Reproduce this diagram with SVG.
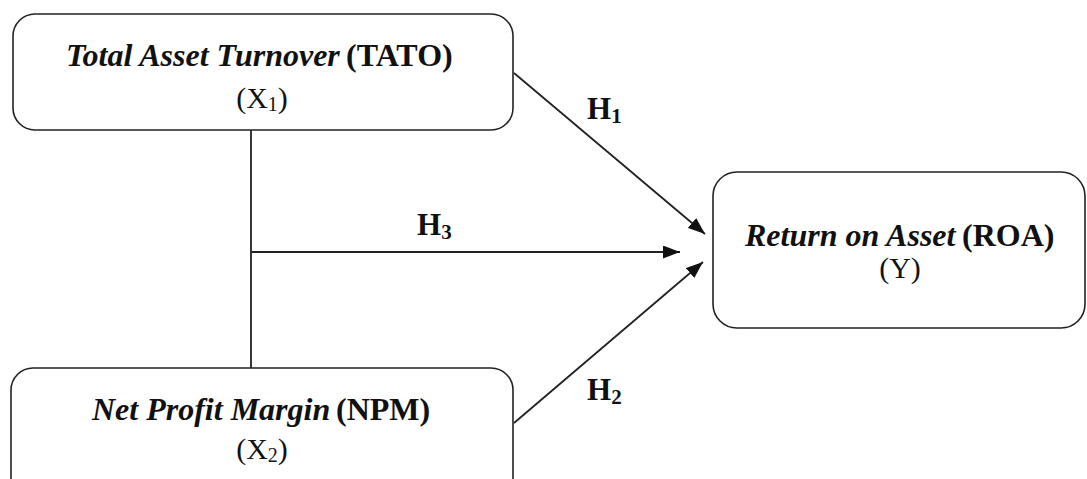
<svg xmlns="http://www.w3.org/2000/svg" width="1087" height="479" viewBox="0 0 1087 479">
<style>
.box{fill:#fff;stroke:#222;stroke-width:1.6}
.t{font-family:"Liberation Serif","Times New Roman","DejaVu Serif",serif;fill:#111}
.m{text-anchor:middle}
.l1{font-size:32px}
.l2{font-size:30px}
.bi{font-style:italic;font-weight:bold}
.b{font-weight:bold}
.sub{font-size:20px}
.h{font-family:"Liberation Serif","Times New Roman","DejaVu Serif",serif;fill:#111;font-weight:bold;font-size:31px}
.hs{font-size:21px}
.c{stroke:#222;stroke-width:1.8;fill:none}
</style>
<defs>
<marker id="ah" viewBox="0 0 17 13" refX="17" refY="6.5" markerWidth="17" markerHeight="13" markerUnits="userSpaceOnUse" orient="auto">
<path d="M0,0 L17,6.5 L0,13 Z" fill="#111"/>
</marker>
</defs>
<rect width="1087" height="479" fill="#fff"/>
<g id="connectors">
<line class="c" x1="251" y1="130" x2="251" y2="368"/>
<line class="c" x1="251" y1="252" x2="680" y2="252" marker-end="url(#ah)"/>
<line class="c" x1="514" y1="73" x2="705" y2="234" marker-end="url(#ah)"/>
<line class="c" x1="514" y1="423" x2="703" y2="262" marker-end="url(#ah)"/>
<text class="h" x="587" y="119">H<tspan class="hs" dy="4">1</tspan></text>
<text class="h" x="417" y="235">H<tspan class="hs" dy="4">3</tspan></text>
<text class="h" x="587" y="400">H<tspan class="hs" dy="4">2</tspan></text>
</g>
<g id="node-tato">
<rect class="box" x="13" y="14" width="500" height="116" rx="22"/>
<text class="t l1 bi" x="66" y="66">Total Asset Turnover</text>
<text class="t l1 b" x="346" y="66">(TATO)</text>
<text class="t l2 m" x="262" y="108">(X<tspan class="sub" dy="3">1</tspan><tspan dy="-3">)</tspan></text>
</g>
<g id="node-roa">
<rect class="box" x="713" y="172" width="372" height="156" rx="24"/>
<text class="t l1 bi" x="745" y="246">Return on Asset</text>
<text class="t l1 b" x="962" y="246">(ROA)</text>
<text class="t l2 m" x="900" y="278">(Y)</text>
</g>
<g id="node-npm">
<rect class="box" x="11" y="368" width="502" height="140" rx="22"/>
<text class="t l1 bi" x="92" y="420">Net Profit Margin</text>
<text class="t l1 b" x="336" y="420">(NPM)</text>
<text class="t l2 m" x="262" y="459">(X<tspan class="sub" dy="3">2</tspan><tspan dy="-3">)</tspan></text>
</g>
</svg>
